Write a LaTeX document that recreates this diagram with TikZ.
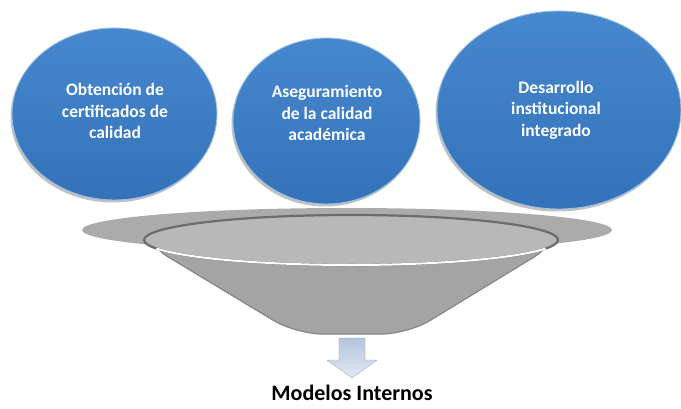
\documentclass[tikz,border=0pt]{standalone}
\usepackage{fontspec}
\setmainfont{Carlito}
\usetikzlibrary{shapes.geometric,shadows}
\definecolor{cblueTop}{HTML}{4688CE}
\definecolor{cblueBot}{HTML}{3372B9}
\definecolor{cedge}{HTML}{9DBEE0}
\definecolor{brimgray}{HTML}{ABABAB}
\definecolor{innergray}{HTML}{B8B8B8}
\definecolor{bodygray}{HTML}{A4A4A4}
\definecolor{bodyedge}{HTML}{868686}
\definecolor{rimdark}{HTML}{6C6C6C}
\definecolor{arrTop}{HTML}{B3C5DD}
\definecolor{arrBot}{HTML}{E2E9F3}
\tikzset{
  bubble/.style={ellipse, inner sep=0pt, draw=cedge, line width=0.9pt,
    top color=cblueTop, bottom color=cblueBot,
    drop shadow={shadow xshift=-1.5pt, shadow yshift=-2.5pt, opacity=.35, fill=black!70}},
  bubbletext/.style={text=white, align=center, font=\bfseries\fontsize{17.5}{21.5}\selectfont},
  outtext/.style={text=black, font=\bfseries\fontsize{22}{26}\selectfont}
}
\begin{document}
\begin{tikzpicture}[x=1pt,y=-1pt]
\useasboundingbox (0,0) rectangle (681,409);
\clip (0,0) rectangle (681,409);
% circles
\node[bubble, minimum width=205pt, minimum height=172pt] (c1) at (114.5,114) {};
\node[bubble, minimum width=187pt, minimum height=166pt] (c2) at (326.5,121) {};
\node[bubble, minimum width=244pt, minimum height=198pt] (c3) at (559,110) {};
\node[bubbletext] (t1) at (115,111) {Obtención de\\certificados de\\calidad};
\node[bubbletext] (t2) at (327,113) {Aseguramiento\\de la calidad\\académica};
\node[bubbletext] (t3) at (556,110) {Desarrollo\\institucional\\integrado};
% funnel
\fill[brimgray] (347,230) ellipse [x radius=265, y radius=22];
\path[fill=bodygray, draw=bodyedge, line width=1.2pt, rounded corners=26pt]
  (145,243) -- (296,334) -- (408,334) -- (557,243) -- cycle;
\fill[innergray] (351,240) ellipse [x radius=207, y radius=25];
\draw[rimdark, line width=2.2pt] (351,240) ellipse [x radius=207, y radius=25];
\draw[white, line width=2pt] (351,240) ++(160:207 and 25) arc[start angle=160, end angle=20, x radius=207, y radius=25];
% arrow
\path[top color=arrTop, bottom color=arrBot, draw=arrTop!80!black, line width=0.3pt]
  (339,338) -- (365,338) -- (365,360) -- (377,360) -- (352,378) -- (327,360) -- (339,360) -- cycle;
\node[outtext] (m) at (352,393) {Modelos Internos};
\end{tikzpicture}
\end{document}
